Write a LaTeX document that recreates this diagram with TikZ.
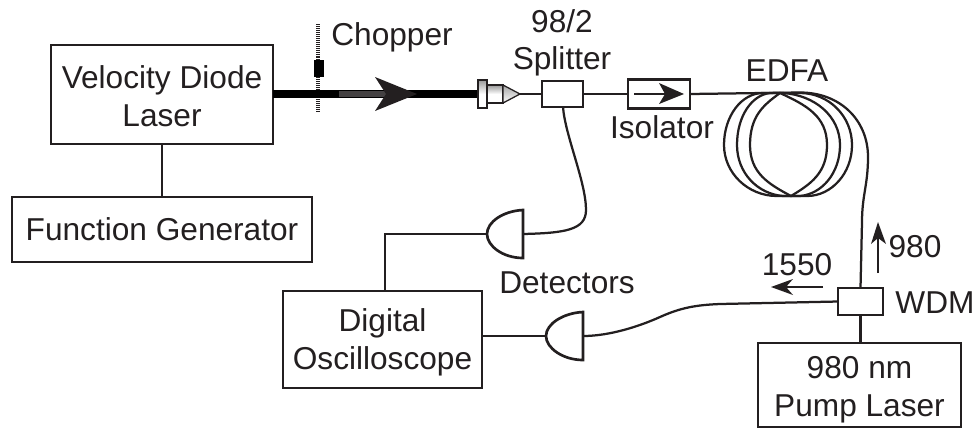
\documentclass[tikz,border=0pt]{standalone}
\usepackage{fontspec}
\setmainfont{Liberation Sans}
\definecolor{ink}{HTML}{231F20}
\newcommand{\lift}[1]{\rule{0pt}{#1pt}}
\tikzset{
	box/.style={draw=ink,line width=1.9pt,align=center,inner sep=0pt,outer sep=0pt,text=ink},
	wire/.style={draw=ink,line width=1.9pt},
	fibre/.style={draw=ink,line width=1.6pt},
	lbl/.style={anchor=base,text=ink,inner sep=0pt},
	thinarrow/.style={draw=ink,line width=1.3pt},
}
\begin{document}
\begin{tikzpicture}[x=0.025cm,y=-0.025cm,font=\fontsize{22.5}{27}\selectfont]
\useasboundingbox (0,0) rectangle (977,429);
% boxes
\node[box,minimum width=222*0.025cm,minimum height=99*0.025cm] (laser) at (162,94.5) {\lift{19.3}Velocity Diode\\Laser};
\node[box,minimum width=300*0.025cm,minimum height=65*0.025cm] (fgen) at (162,229.5) {Function Generator};
\node[box,minimum width=199*0.025cm,minimum height=97*0.025cm] (scope) at (382.5,339.5) {\lift{20.8}Digital\\Oscilloscope};
\node[box,minimum width=203*0.025cm,minimum height=84*0.025cm] (pump) at (859.5,385) {\lift{22.5}980 nm\\Pump Laser};
\node[box,minimum width=41*0.025cm,minimum height=26*0.025cm] (split) at (562.5,94) {};
\node[box,minimum width=62*0.025cm,minimum height=29*0.025cm] (iso) at (659,94) {};
\node[box,minimum width=45*0.025cm,minimum height=27*0.025cm] (wdm) at (860.5,301.5) {};
\draw[wire] (laser) -- (fgen);
\draw[wire] (wdm.south) -- (wdm.south |- pump.north);
% chopper and beam
\coordinate (chopT) at (318,24);
\coordinate (chopB) at (318,111);
\coordinate (colL) at (478,94);
\draw[ink,line width=2.5pt,dash pattern=on 0.7pt off 0.7pt] (chopT) -- (chopB);
\fill[black] (314,60) rectangle (324,77);
\draw[black,line width=5.4pt] (laser.east |- colL) -- (colL);
\draw[ink!85!white,line width=4pt] (339,94) -- (400,94);
\fill[ink] (417,94) -- (375,77) -- (386,94) -- (375,111) -- cycle;
% collimator
\draw[ink,line width=0.9pt,top color=gray!80,bottom color=white,middle color=white] (487,85) rectangle (503,103);
\draw[ink,line width=0.9pt,top color=gray!70,bottom color=white] (503,85) -- (520,94) -- (503,103) -- cycle;
\draw[ink,line width=1.1pt,top color=gray!80,bottom color=white,middle color=white] (478,80) rectangle (487,108);
\coordinate (colR) at (520,94);
\draw[fibre] (colR) -- (split);
\draw[fibre] (split) -- (iso);
% isolator arrow
\coordinate (isoA) at (634,94);
\coordinate (isoB) at (684,94);
\draw[thinarrow] (isoA) -- (670,94);
\fill[ink] (isoB) -- (659,83) -- (665,94) -- (659,104) -- cycle;
% EDFA coil
\foreach \l/\r/\tl/\tr/\bl/\br/\p in {750/827/780/780/791/791/12,737/840/770/783/783/800/2,724/852/763/800/777/807/0}{
	\draw[fibre] (\tl,93) -- (\tr,93) .. controls ({\tr+.55*(\r-\tr)},{93+\p}) and (\r,{145-29}) .. (\r,145)
		.. controls (\r,{145+28}) and ({\br+.55*(\r-\br)},{196-\p}) .. (\br,196) -- (\bl,196)
		.. controls ({\bl+.55*(\l-\bl)},{196-\p}) and (\l,{145+28}) .. (\l,145)
		.. controls (\l,{145-29}) and ({\tl+.55*(\l-\tl)},{93+\p}) .. (\tl,93) -- cycle;
}
\draw[fibre] (iso.east) -- (800,92.5) .. controls (840,92.5) and (868,120) .. (868,157)
	.. controls (868,185) and (862,195) .. (862,222) -- (wdm.north);
% detectors
\coordinate (det1) at (523,234);
\coordinate (tip1) at (487,234);
\coordinate (det2) at (583,336);
\coordinate (tip2) at (546,336);
\foreach \n in {1,2}{
	\draw[ink,line width=1.9pt,line join=miter] ([yshift=-24*0.025cm]det\n) -- ([yshift=24*0.025cm]det\n)
		.. controls ([xshift=-20*0.025cm,yshift=23*0.025cm]det\n) and ([yshift=12*0.025cm]tip\n) .. (tip\n)
		.. controls ([yshift=-12*0.025cm]tip\n) and ([xshift=-20*0.025cm,yshift=-24*0.025cm]det\n) .. ([yshift=-24*0.025cm]det\n) -- cycle;
}
\draw[wire] (tip1) -- (385,234) -- (385,234 |- scope.north);
\draw[fibre] (tip2) -- (scope.east |- tip2);
\draw[fibre] (563,107) .. controls (565,135) and (586,182) .. (586,210)
	.. controls (586,230) and (565,233) .. (det1);
\draw[fibre] (det2) .. controls (610,336) and (640,326) .. (660,317)
	.. controls (680,308) and (695,305) .. (720,304) -- (wdm.west);
% direction arrows
\coordinate (a980A) at (878,273);
\coordinate (a980B) at (878,222);
\coordinate (a1550A) at (823,287);
\coordinate (a1550B) at (771,287);
\draw[thinarrow] (a980A) -- (878,236);
\fill[ink] (a980B) -- (871,244) -- (878,238) -- (886,244) -- cycle;
\draw[thinarrow] (a1550A) -- (785,287);
\fill[ink] (a1550B) -- (793,279) -- (786,287) -- (793,295) -- cycle;
% labels
\node[lbl] (chopLbl) at (392,45) {Chopper};
\node[lbl] (ratioLbl) at (562,32) {98/2};
\node[lbl] (splitLbl) at (562,69) {Splitter};
\node[lbl] (isoLbl) at (662,138) {Isolator};
\node[lbl] (edfaLbl) at (787,81) {EDFA};
\node[lbl] (detLbl) at (567,293) {Detectors};
\node[lbl] (l980) at (915,257) {980};
\node[lbl] (l1550) at (797,275) {1550};
\node[lbl] (wdmLbl) at (935,313) {WDM};
\end{tikzpicture}
\end{document}
